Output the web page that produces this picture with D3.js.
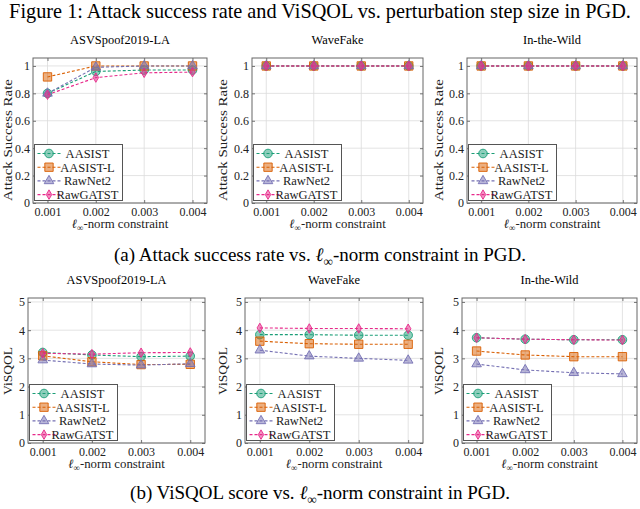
<!DOCTYPE html>
<html>
<head>
<meta charset="utf-8">
<script src="https://cdn.jsdelivr.net/npm/d3@7"></script>
<style>
  body { margin: 0; background: #fff; }
  svg { font-family: "Liberation Serif", "Times New Roman", serif; }
</style>
</head>
<body>
<svg id="chart" width="640" height="509"></svg>
<script>
// DATA
const steps = [0.001, 0.002, 0.003, 0.004];
const stepLabels = ["0.001", "0.002", "0.003", "0.004"];
const models = ["AASIST", "AASIST-L", "RawNet2", "RawGATST"];
const datasets = ["ASVSpoof2019-LA", "WaveFake", "In-the-Wild"];
const colors = ["#1b9e77", "#d95f02", "#7570b3", "#e7298a"];
const asrTicks = [0, 0.2, 0.4, 0.6, 0.8, 1];
const visqolTicks = [0, 1, 2, 3, 4, 5];

// attack success rate, one row per model
const asrASV = [
    [0.80, 0.96, 0.97, 0.97],
    [0.92, 1.00, 1.00, 1.00],
    [0.80, 0.99, 1.00, 1.00],
    [0.79, 0.915, 0.95, 0.955]
];
const asrWaveFake = [
    [1, 1, 1, 1],
    [1, 1, 1, 1],
    [1, 1, 1, 1],
    [1, 1, 1, 1]
];
const asrITW = [
    [1, 1, 1, 1],
    [1, 1, 1, 1],
    [1, 1, 1, 1],
    [1, 1, 1, 1]
];

// ViSQOL score, one row per model
const visqolASV = [
    [3.21, 3.12, 3.06, 3.08],
    [3.09, 2.88, 2.78, 2.79],
    [2.94, 2.80, 2.76, 2.81],
    [3.18, 3.15, 3.20, 3.21]
];
const visqolWaveFake = [
    [3.84, 3.84, 3.82, 3.82],
    [3.61, 3.52, 3.50, 3.50],
    [3.29, 3.08, 3.00, 2.93],
    [4.08, 4.06, 4.06, 4.05]
];
const visqolITW = [
    [3.73, 3.68, 3.66, 3.66],
    [3.26, 3.12, 3.06, 3.06],
    [2.80, 2.59, 2.49, 2.45],
    [3.73, 3.68, 3.66, 3.65]
];

// LAYOUT
const svg = d3.select("#chart");
const symbols = [d3.symbolCircle, d3.symbolSquare, d3.symbolTriangle, d3.symbolDiamond];
const symbolSizes = [58, 70, 40, 26];
const tickFs = 12;
const legendFs = 12.5;

// Titles
svg.append("text")
    .attr("x", 320).attr("y", 18)
    .attr("text-anchor", "middle")
    .attr("font-size", 20.3)
    .text("Figure 1: Attack success rate and ViSQOL vs. perturbation step size in PGD.");

const addNormText = (sel, size) => {
    sel.append("tspan").attr("font-style", "italic").text("ℓ");
    sel.append("tspan").attr("font-size", size * 0.7).attr("dy", size * 0.25).text("∞");
    sel.append("tspan").attr("dy", -size * 0.25).text("-norm constraint");
};

const capA = svg.append("text")
    .attr("x", 320).attr("y", 261)
    .attr("text-anchor", "middle")
    .attr("font-size", 19);
capA.append("tspan").text("(a) Attack success rate vs. ");
addNormText(capA, 19);
capA.append("tspan").text(" in PGD.");

const capB = svg.append("text")
    .attr("x", 320).attr("y", 499)
    .attr("text-anchor", "middle")
    .attr("font-size", 19);
capB.append("tspan").text("(b) ViSQOL score vs. ");
addNormText(capB, 19);
capB.append("tspan").text(" in PGD.");

// Draw one panel
const drawPanel = (opt) => {
    const {x0, x1, y0, y1, title, ylabel, yTicks, yMax, values, labelX, labelY, labelLen} = opt;
    const g = svg.append("g");

    const x = d3.scaleLinear()
        .domain([0.0007, 0.0043])
        .range([x0, x1]);
    const y = d3.scaleLinear()
        .domain([0, yMax])
        .range([y1, y0]);

    // Grid
    g.append("g").selectAll("line")
        .data(steps)
        .enter().append("line")
        .attr("x1", d => x(d)).attr("x2", d => x(d))
        .attr("y1", y0).attr("y2", y1)
        .attr("stroke", "#dcdcdc").attr("stroke-width", 0.8);
    g.append("g").selectAll("line")
        .data(yTicks)
        .enter().append("line")
        .attr("x1", x0).attr("x2", x1)
        .attr("y1", d => y(d)).attr("y2", d => y(d))
        .attr("stroke", "#dcdcdc").attr("stroke-width", 0.8);

    // Axes (ticks pointing inward, labels outside)
    g.append("g")
        .attr("transform", `translate(0,${y1})`)
        .call(d3.axisBottom(x).tickValues(steps).tickFormat((d, i) => stepLabels[i]).tickSize(-3).tickPadding(4));
    g.append("g")
        .attr("transform", `translate(${x0},0)`)
        .call(d3.axisLeft(y).tickValues(yTicks).tickFormat(d3.format("")).tickSize(-3).tickPadding(3));
    g.append("g")
        .attr("transform", `translate(0,${y0})`)
        .call(d3.axisTop(x).tickValues(steps).tickFormat("").tickSize(-3));
    g.append("g")
        .attr("transform", `translate(${x1},0)`)
        .call(d3.axisRight(y).tickValues(yTicks).tickFormat("").tickSize(-3));
    g.selectAll(".domain").remove();
    g.selectAll(".tick line").attr("stroke", "#555").attr("stroke-width", 0.8);
    g.selectAll(".tick text")
        .attr("font-family", "'Liberation Serif', serif")
        .attr("font-size", tickFs)
        .attr("fill", "#222");

    // Frame
    g.append("rect")
        .attr("x", x0).attr("y", y0)
        .attr("width", x1 - x0).attr("height", y1 - y0)
        .attr("fill", "none")
        .attr("stroke", "#666").attr("stroke-width", 1);

    // Series
    const line = d3.line()
        .x((d, i) => x(steps[i]))
        .y(d => y(d));
    values.forEach((vals, k) => {
        const s = g.append("g");
        s.append("path")
            .datum(vals)
            .attr("d", line)
            .attr("fill", "none")
            .attr("stroke", colors[k])
            .attr("stroke-width", 1.1)
            .attr("stroke-dasharray", "3,2");
        s.selectAll("path.mark")
            .data(vals)
            .enter().append("path")
            .attr("class", "mark")
            .attr("transform", (d, i) => `translate(${x(steps[i])},${y(d)})`)
            .attr("d", d3.symbol().type(symbols[k]).size(symbolSizes[k]))
            .attr("fill", colors[k]).attr("fill-opacity", 0.5)
            .attr("stroke", colors[k]).attr("stroke-width", 0.9);
    });

    // Panel title
    g.append("text")
        .attr("x", (x0 + x1) / 2).attr("y", y0 - 14)
        .attr("text-anchor", "middle")
        .attr("font-size", 12.4)
        .text(title);

    // Axis labels
    const xl = g.append("text")
        .attr("x", (x0 + x1) / 2).attr("y", y1 + 25)
        .attr("text-anchor", "middle")
        .attr("font-size", 12.8)
        .attr("fill", "#222");
    addNormText(xl, 12.8);

    g.append("text")
        .attr("transform", `translate(${labelX},${labelY}) rotate(-90)`)
        .attr("text-anchor", "middle")
        .attr("font-size", 12.5)
        .attr("textLength", labelLen)
        .attr("lengthAdjust", "spacingAndGlyphs")
        .attr("fill", "#222")
        .text(ylabel);

    // Legend
    const lw = 88, lh = 56, rowH = 13.7;
    const lx = x0 + 1.5, ly = y1 - 2.5 - lh;
    const leg = g.append("g").attr("transform", `translate(${lx},${ly})`);
    leg.append("rect")
        .attr("width", lw).attr("height", lh)
        .attr("fill", "#fff")
        .attr("stroke", "#555").attr("stroke-width", 1);
    models.forEach((m, k) => {
        const cy = 9 + k * rowH;
        leg.append("line")
            .attr("x1", 3).attr("x2", 26)
            .attr("y1", cy).attr("y2", cy)
            .attr("stroke", colors[k]).attr("stroke-width", 1.1)
            .attr("stroke-dasharray", "3,2");
        leg.append("path")
            .attr("transform", `translate(14.5,${cy})`)
            .attr("d", d3.symbol().type(symbols[k]).size(symbolSizes[k]))
            .attr("fill", colors[k]).attr("fill-opacity", 0.5)
            .attr("stroke", colors[k]).attr("stroke-width", 0.9);
        leg.append("text")
            .attr("x", 53).attr("y", cy + 4.3)
            .attr("text-anchor", "middle")
            .attr("font-size", legendFs)
            .attr("fill", "#222")
            .text(m);
    });
};

// Top row: attack success rate
const asrValues = [asrASV, asrWaveFake, asrITW];
const topX = [[33, 207], [252, 423], [467, 637]];
const topLabelX = [12, 227, 443];
datasets.forEach((ds, i) => {
    drawPanel({
        x0: topX[i][0], x1: topX[i][1], y0: 58, y1: 203,
        title: ds, ylabel: "Attack Success Rate",
        yTicks: asrTicks, yMax: 1.058,
        values: asrValues[i], labelX: topLabelX[i], labelY: 140, labelLen: 122
    });
});

// Bottom row: ViSQOL
const visqolValues = [visqolASV, visqolWaveFake, visqolITW];
const botX = [[28, 205], [245, 423], [462, 637]];
const botLabelX = [12, 227, 443];
datasets.forEach((ds, i) => {
    drawPanel({
        x0: botX[i][0], x1: botX[i][1], y0: 298, y1: 443,
        title: ds, ylabel: "ViSQOL",
        yTicks: visqolTicks, yMax: 5.14,
        values: visqolValues[i], labelX: botLabelX[i], labelY: 371, labelLen: 48
    });
});
</script>
</body>
</html>
